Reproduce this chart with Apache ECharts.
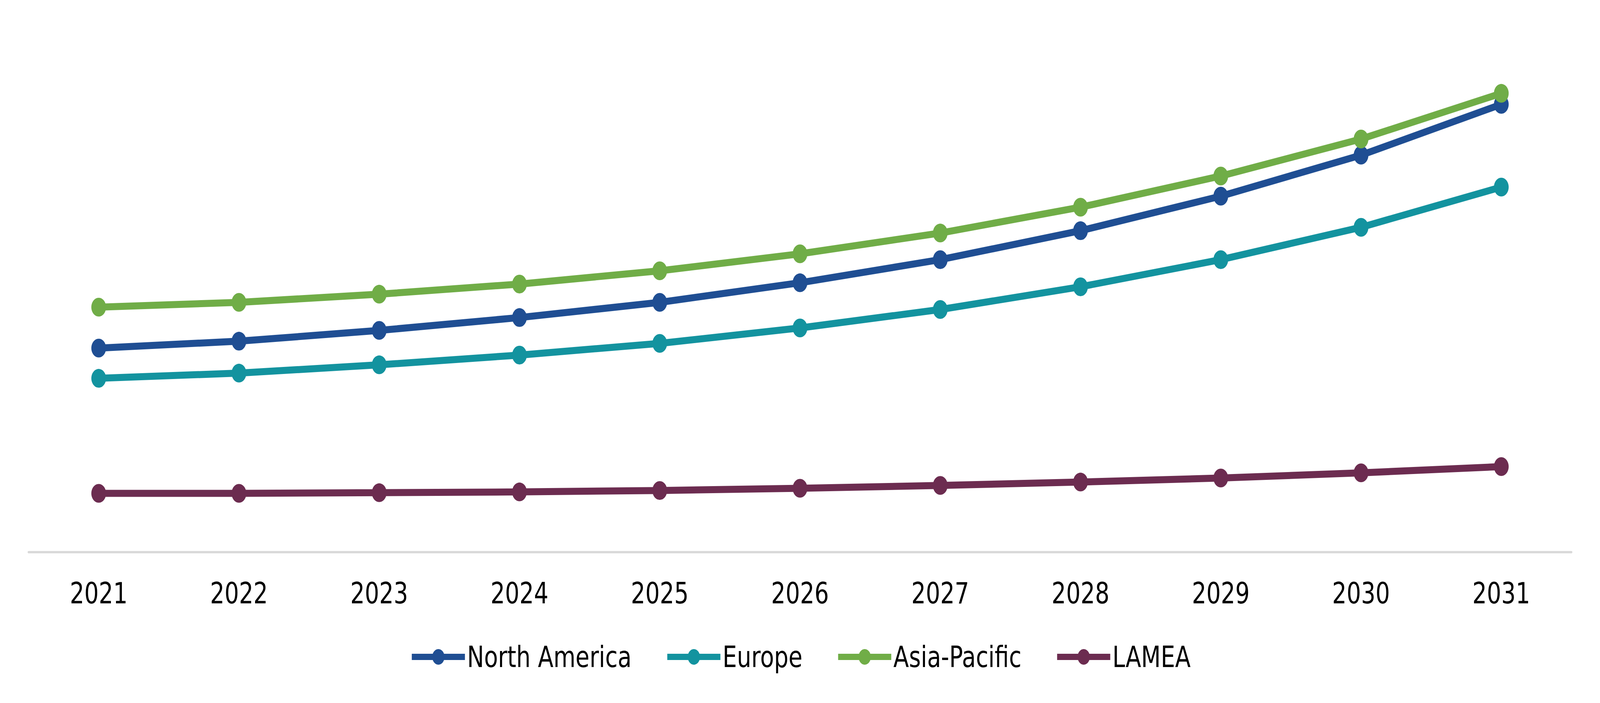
<!DOCTYPE html>
<html>
<head>
<meta charset="utf-8">
<title>Regional market trend 2021-2031</title>
<script src="https://cdn.jsdelivr.net/npm/echarts@6/dist/echarts.min.js"></script>
<style>
  html, body { margin: 0; padding: 0; background: #fff; overflow: hidden; }
  #main { width: 5209px; height: 1799px; transform-origin: 0 0; }
</style>
</head>
<body>
<div id="main"></div>
<script>
var years = ["2021", "2022", "2023", "2024", "2025", "2026", "2027", "2028", "2029", "2030", "2031"];
var northAmerica = [157.2, 162.5, 170.8, 180.7, 192.4, 207.5, 225.3, 247.6, 274.2, 305.8, 344.9];
var europe = [133.9, 137.9, 144.3, 151.8, 160.8, 172.7, 186.9, 204.4, 225.3, 250.2, 281.2];
var asiaPacific = [188.7, 192.4, 198.7, 206.5, 216.7, 229.8, 245.8, 265.7, 289.7, 318.2, 353.4];
var lamea = [45.3, 45.3, 45.8, 46.4, 47.5, 49.2, 51.4, 54.0, 57.1, 61.1, 65.9];

var colors = ["#1F4E93", "#13939F", "#70AD47", "#6C2C50"];
var font = "DejaVu Sans";

// the chart is laid out at 5209x1799; fit it to whatever the window really is
var box = document.getElementById("main");
box.style.transform =
  "scale(" + window.innerWidth / 5209 + "," + window.innerHeight / 1799 + ")";

function lineSeries(name, data, color) {
  return {
    name: name,
    type: "line",
    data: data,
    symbol: "circle",
    symbolSize: 48,
    itemStyle: { color: color },
    lineStyle: { color: color, width: 18 },
    emphasis: { disabled: true }
  };
}

var myChart = echarts.init(box, null, { renderer: "svg" });
var option = {
  animation: false,
  backgroundColor: "#ffffff",
  color: colors,
  grid: {
    left: 93,
    right: 93,
    top: 84,
    bottom: 386,
    containLabel: false
  },
  legend: {
    top: 1639,
    left: "center",
    itemWidth: 173,
    itemHeight: 50,
    itemGap: 108,
    lineStyle: { width: 16 },
    textStyle: {
      fontFamily: font,
      fontSize: 74,
      color: "#000000",
      padding: [0, 0, 0, 2]
    },
    data: ["North America", "Europe", "Asia-Pacific", "LAMEA"]
  },
  xAxis: {
    type: "category",
    boundaryGap: true,
    data: years,
    axisLine: { show: true, lineStyle: { color: "#D9D9D9", width: 6 } },
    axisTick: { show: false },
    axisLabel: {
      margin: 68,
      fontFamily: font,
      fontSize: 74,
      color: "#000000"
    },
    splitLine: { show: false }
  },
  yAxis: {
    type: "value",
    min: 0,
    max: 400,
    show: false,
    splitLine: { show: false }
  },
  series: [
    lineSeries("North America", northAmerica, colors[0]),
    lineSeries("Europe", europe, colors[1]),
    lineSeries("Asia-Pacific", asiaPacific, colors[2]),
    lineSeries("LAMEA", lamea, colors[3])
  ]
};
myChart.setOption(option);
</script>
</body>
</html>
